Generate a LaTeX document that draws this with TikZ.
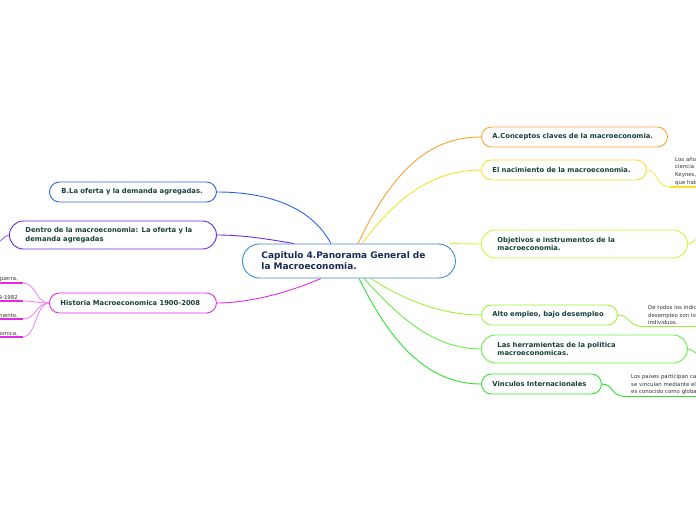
\documentclass[tikz,border=0pt]{standalone}
\usepackage{fontspec}
\setmainfont{DejaVu Sans}
\usetikzlibrary{calc,backgrounds}
\definecolor{txtgreen}{HTML}{17403A}
\definecolor{txtnavy}{HTML}{1B2A52}
\definecolor{leaftxt}{HTML}{333333}
\definecolor{cCenter}{HTML}{3A8CCC}
\definecolor{cOrange}{HTML}{F5A235}
\definecolor{cYellow}{HTML}{F5E12A}
\definecolor{cYG}{HTML}{D6F03A}
\definecolor{cLG}{HTML}{A0F03A}
\definecolor{cG}{HTML}{66EE44}
\definecolor{cBG}{HTML}{2EE32E}
\definecolor{cBlue}{HTML}{2A62F0}
\definecolor{cPurple}{HTML}{6A2AE0}
\definecolor{cMag}{HTML}{E42AE4}
\definecolor{cPink}{HTML}{F08AF0}
\begin{document}
\begin{tikzpicture}[x=1pt,y=-1pt,
  topic/.style 2 args={draw=#1, fill=white, line width=0.9pt, anchor=west, align=left,
    text width=#2, inner ysep=0pt, text=txtgreen,
    font=\bfseries\fontsize{6.8}{8.6}\selectfont},
  leaf/.style={inner ysep=1.5pt, inner xsep=5pt, text=leaftxt,
    font=\fontsize{5.4}{7.6}\selectfont, text width=80pt},
  conn/.style={line width=0.9pt},
  uline/.style={line width=1.8pt}]
\useasboundingbox (0,0) rectangle (696,520);

% central topic
\node[draw=cCenter, fill=white, line width=0.9pt, anchor=west, align=left, text width=175pt,
  inner xsep=19pt, minimum height=34pt, rounded corners=17pt, text=txtnavy,
  font=\bfseries\fontsize{9}{11}\selectfont] (c) at (242,261)
  {Capitulo 4.Panorama General de\\la Macroeconomia.};

% right topics
\node[topic={cOrange}{164pt}, inner xsep=11pt, minimum height=20pt, rounded corners=10pt] (A) at (481,137) {\mbox{A.Conceptos claves de la macroeconomia.}};
\node[topic={cYellow}{143pt}, inner xsep=11pt, minimum height=20pt, rounded corners=10pt] (N) at (481,170) {\mbox{El nacimiento de la macroeconomia.}};
\node[topic={cYG}{174pt}, inner xsep=16pt, minimum height=28pt, rounded corners=14pt] (O) at (481,244) {\mbox{Objetivos e instrumentos de la}\\\mbox{macroeconomia.}};
\node[topic={cLG}{114pt}, inner xsep=11pt, minimum height=20pt, rounded corners=10pt] (E) at (481,315) {\mbox{Alto empleo, bajo desempleo}};
\node[topic={cG}{174pt}, inner xsep=16pt, minimum height=28pt, rounded corners=14pt] (H) at (481,349) {\mbox{Las herramientas de la politica}\\\mbox{macroeconomicas.}};
\node[topic={cBG}{98pt}, inner xsep=11pt, minimum height=20pt, rounded corners=10pt] (V) at (481,384) {\mbox{Vinculos Internacionales}};

% left topics
\node[topic={cBlue}{143pt}, inner xsep=12pt, minimum height=20pt, rounded corners=10pt] (B) at (49,192) {\mbox{B.La oferta y la demanda agregadas.}};
\node[topic={cPurple}{175pt}, inner xsep=16pt, minimum height=28pt, rounded corners=14pt] (D) at (9,235) {\mbox{Dentro de la macroeconomia: La oferta y la}\\\mbox{demanda agregadas}};
\node[topic={cMag}{145pt}, inner xsep=11pt, minimum height=20pt, rounded corners=10pt] (Hi) at (49,303) {\mbox{Historia Macroeconomica 1900-2008}};

% right leaves
\node[leaf, anchor=south west] (Nl) at (670,187) {Los años\\ciencia\\Keynes,\\que hab};
\node[leaf, anchor=south west] (El) at (643,326.5) {De todos los indic\\desempleo son lo\\individuos.};
\node[leaf, anchor=south west] (Vl) at (626,396.5) {Los paises participan ca\\se vinculan mediante el\\es conocido como globa};

% left leaves of Historia
\node[leaf, anchor=south east, align=right, text width=60pt] (L1) at (23,283) {guerra.};
\node[leaf, anchor=south east, align=right, text width=60pt] (L2) at (23,301) {9-1982};
\node[leaf, anchor=south east, align=right, text width=60pt] (L3) at (23,319) {miento.};
\node[leaf, anchor=south east, align=right, text width=60pt] (L4) at (23,337) {omica.};

% free ends of off-picture branches
\coordinate (Ox) at (702,238);
\coordinate (Hx) at (704,355);
\coordinate (Dx) at (-6,244);

\begin{pgfonlayer}{background}
  % from centre, right side
  \draw[conn, cOrange] ($(c.north)+(9,0)$) .. controls (392,172) and (428,137) .. (A.west);
  \draw[conn, cYellow] ($(c.north)+(13,0)$) .. controls (395,200) and (430,170) .. (N.west);
  \draw[conn, cYG] ($(c.north east)+(-6,0)$) -- (O.west);
  \draw[conn, cLG] ($(c.south)+(22,0)$) .. controls (400,298) and (440,315) .. (E.west);
  \draw[conn, cG] ($(c.south)+(15,0)$) .. controls (395,312) and (430,349) .. (H.west);
  \draw[conn, cBG] ($(c.south)+(10,0)$) .. controls (385,330) and (420,384) .. (V.west);
  % from centre, left side
  \draw[conn, cBlue] ($(c.north)+(-18,0)$) .. controls (312,208) and (270,192) .. (B.east);
  \draw[conn, cPurple] ($(c.north)+(-55,0)$) .. controls (262,238) and (240,235) .. (D.east);
  \draw[conn, cMag] ($(c.south)+(-28,0)$) .. controls (290,292) and (250,303) .. (Hi.east);
  % topic to leaves
  \draw[conn, cYellow!80!white] (N.east) .. controls (658,170) and (656,187) .. (Nl.south west);
  \draw[uline, cYellow] (Nl.south west) -- (Nl.south east);
  \draw[conn, cLG] (E.east) .. controls (630,315) and (628,326.5) .. (El.south west);
  \draw[uline, cLG] (El.south west) -- (El.south east);
  \draw[conn, cBG] (V.east) .. controls (614,384) and (610,396.5) .. (Vl.south west);
  \draw[uline, cBG] (Vl.south west) -- (Vl.south east);
  % off-picture stubs
  \draw[conn, cYG] (O.east) .. controls (692,244) and (694,238) .. (Ox);
  \draw[conn, cG] (H.east) .. controls (692,349) and (696,355) .. (Hx);
  \draw[conn, cPurple!70!white] (D.west) .. controls (4,235) and (0,244) .. (Dx);
  % Historia leaves
  \foreach \l in {L1,L2,L3,L4} {
    \draw[conn, cPink] (Hi.west) .. controls (36,303) and (36,0|-\l.south east) .. (\l.south east);
    \draw[uline, cMag] (\l.south west) -- (\l.south east);
  }
\end{pgfonlayer}
\end{tikzpicture}
\end{document}
